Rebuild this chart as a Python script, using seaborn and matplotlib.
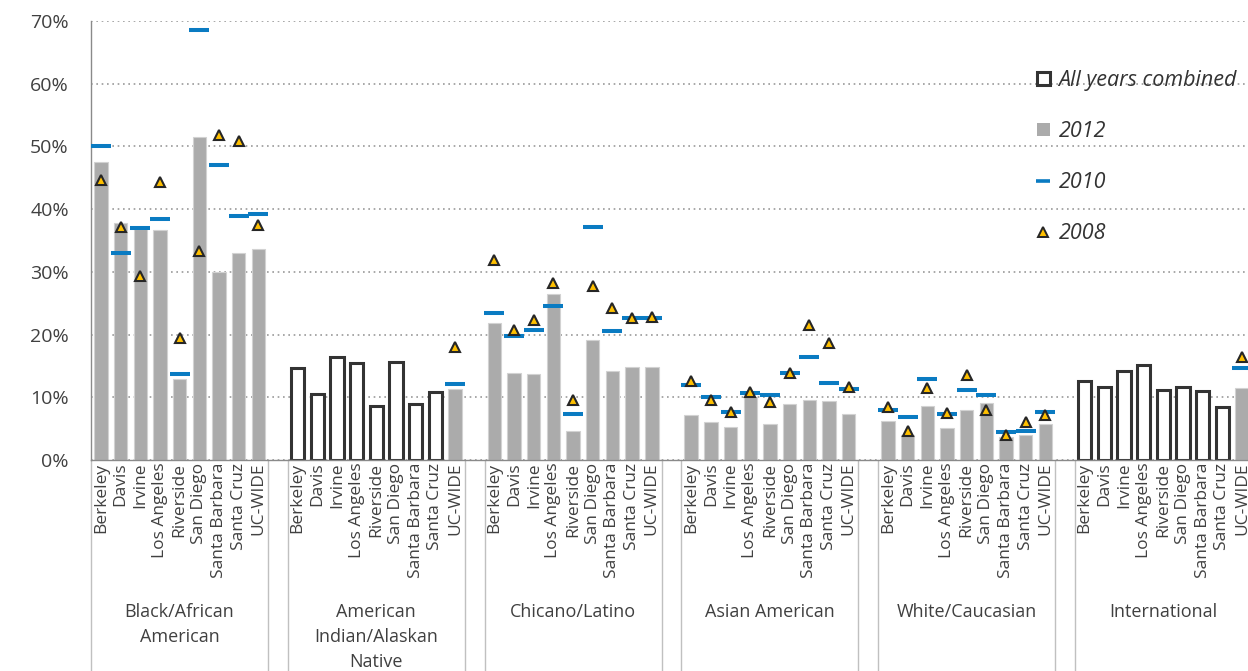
import matplotlib
matplotlib.use('Agg')
import matplotlib.pyplot as plt
import matplotlib.transforms as mtransforms
from matplotlib.lines import Line2D
from matplotlib.patches import Patch
import numpy as np
import pandas as pd
import seaborn as sns

nan = np.nan

# campuses and groups
campuses = ['Berkeley', 'Davis', 'Irvine', 'Los Angeles', 'Riverside',
            'San Diego', 'Santa Barbara', 'Santa Cruz', 'UC-WIDE']
groups = ['Black/African\nAmerican', 'American\nIndian/Alaskan\nNative',
          'Chicano/Latino', 'Asian American', 'White/Caucasian', 'International']
combined_groups = ['American\nIndian/Alaskan\nNative', 'International']

# bar values (2012, or all years combined for small groups), in percent
black_bar = [47.5, 37.8, 36.9, 36.6, 12.9, 51.5, 30.0, 33.0, 33.6]
amind_bar = [14.7, 10.6, 16.4, 15.5, 8.6, 15.6, 9.0, 10.8, 11.3]
chicano_bar = [21.8, 13.8, 13.7, 26.4, 4.7, 19.1, 14.2, 14.8, 14.8]
asian_bar = [7.1, 6.1, 5.3, 10.0, 5.7, 9.0, 9.5, 9.4, 7.4]
white_bar = [6.2, 4.0, 8.6, 5.1, 8.0, 9.1, 3.6, 4.0, 5.7]
intl_bar = [12.6, 11.7, 14.2, 15.2, 11.1, 11.6, 11.0, 8.5, 11.5]

# 2010 values
black_2010 = [50.0, 33.0, 37.0, 38.4, 13.7, 68.5, 47.1, 38.9, 39.2]
amind_2010 = [nan, nan, nan, nan, nan, nan, nan, nan, 12.1]
chicano_2010 = [23.5, 19.7, 20.8, 24.6, 7.4, 37.2, 20.6, 22.7, 22.7]
asian_2010 = [12.0, 10.1, 7.7, 10.7, 10.4, 13.8, 16.5, 12.3, 11.4]
white_2010 = [8.0, 6.8, 12.9, 7.4, 11.2, 10.4, 4.4, 4.6, 7.7]
intl_2010 = [nan, nan, nan, nan, nan, nan, nan, nan, 14.6]

# 2008 values
black_2008 = [44.6, 37.2, 29.4, 44.3, 19.4, 33.3, 51.9, 50.8, 37.4]
amind_2008 = [nan, nan, nan, nan, nan, nan, nan, nan, 18.0]
chicano_2008 = [31.9, 20.8, 22.3, 28.3, 9.6, 27.8, 24.3, 22.6, 22.8]
asian_2008 = [12.6, 9.6, 7.6, 10.9, 9.3, 13.8, 21.5, 18.6, 11.6]
white_2008 = [8.4, 4.7, 11.5, 7.5, 13.5, 7.9, 4.0, 6.1, 7.1]
intl_2008 = [nan, nan, nan, nan, nan, nan, nan, nan, 16.4]

bar_values = [black_bar, amind_bar, chicano_bar, asian_bar, white_bar, intl_bar]
values_2010 = [black_2010, amind_2010, chicano_2010, asian_2010, white_2010, intl_2010]
values_2008 = [black_2008, amind_2008, chicano_2008, asian_2008, white_2008, intl_2008]

# long table, with an empty slot between groups
rows = []
order = []
for gi, (g, bars, v10, v08) in enumerate(zip(groups, bar_values, values_2010, values_2008)):
    for c, b, a, t in zip(campuses, bars, v10, v08):
        key = g + '|' + c
        order.append(key)
        kind = 'All years combined' if (g in combined_groups and c != 'UC-WIDE') else '2012'
        rows.append(dict(key=key, group=g, campus=c, bar=b, v2010=a, v2008=t, kind=kind))
    if gi < len(groups) - 1:
        order.append('gap%d' % gi)
df = pd.DataFrame(rows)
df['pos'] = df['key'].map({k: i for i, k in enumerate(order)})

sns.set_theme(style='white')
plt.rcParams['font.family'] = ['Open Sans', 'DejaVu Sans']

text_color = '#404040'
blue = '#0a7bc2'
gray = '#ababab'

fig = plt.figure(figsize=(12.48, 6.71), dpi=100)
ax = fig.add_axes([91 / 1248, 211 / 671, 1161 / 1248, 439 / 671])

sns.barplot(data=df[df['kind'] == '2012'], x='key', y='bar', order=order,
            color=gray, saturation=1, width=0.68, edgecolor='#d2d2d2',
            linewidth=0.8, errorbar=None, ax=ax, zorder=2)
sns.barplot(data=df[df['kind'] == 'All years combined'], x='key', y='bar', order=order,
            color='white', saturation=1, width=0.68, edgecolor='#333333',
            linewidth=2.2, errorbar=None, ax=ax, zorder=2)

ax.plot(df['pos'], df['v2010'], ls='none', marker='_', ms=14, mew=2.9,
        color=blue, zorder=4)
ax.plot(df['pos'], df['v2008'], ls='none', marker='^', ms=7.5, mfc='#ffc000',
        mec='#262626', mew=1.5, zorder=5)

ax.set_xlim(-0.5, len(order) - 0.5)
ax.set_ylim(0, 70)
ax.set_yticks(range(0, 71, 10), ['%d%%' % v for v in range(0, 71, 10)])
ax.set_xticks(df['pos'], df['campus'], rotation=90)
ax.tick_params(axis='x', length=0, pad=2, labelsize=12.5, labelcolor=text_color)
ax.tick_params(axis='y', length=0, pad=16, labelsize=14, labelcolor=text_color)
ax.set_xlabel('')
ax.set_ylabel('')

ax.set_axisbelow(True)
ax.yaxis.grid(True, linestyle=(0, (1, 2.2)), color='#9a9a9a', linewidth=1.2)
for side in ['top', 'right']:
    ax.spines[side].set_visible(False)
for side in ['left', 'bottom']:
    ax.spines[side].set_color('#8a8a8a')
    ax.spines[side].set_linewidth(1)

# group separators and group labels
trans = mtransforms.blended_transform_factory(ax.transData, ax.transAxes)
for g, sub in df.groupby('group', sort=False):
    for b in (sub['pos'].min() - 0.5, sub['pos'].max() + 0.5):
        ax.plot([b, b], [0, -0.6], transform=trans, color='#c0c0c0', lw=1,
                clip_on=False, zorder=1)
    ax.text(sub['pos'].mean(), -0.325, g, transform=trans, ha='center', va='top',
            fontsize=13, color=text_color, linespacing=1.5)

handles = [Patch(facecolor='white', edgecolor='#333333', linewidth=2.2, label='All years combined'),
           Patch(facecolor=gray, edgecolor='none', label='2012'),
           Line2D([], [], ls='none', marker='_', ms=9.5, mew=2.6, color=blue, label='2010'),
           Line2D([], [], ls='none', marker='^', ms=6.5, mfc='#ffc000', mec='#262626',
                  mew=1.4, label='2008')]
leg = ax.legend(handles=handles, loc='upper left', bbox_to_anchor=(1037 / 1248, 1 - 70 / 671),
                bbox_transform=fig.transFigure, frameon=False,
                prop=dict(family='Open Sans', style='italic', size=15.5),
                handlelength=0.6, handleheight=0.6, handletextpad=0.4,
                labelspacing=1.4, borderpad=0, borderaxespad=0)
for t in leg.get_texts():
    t.set_color('#333333')

fig.savefig('out.png', dpi=100)
